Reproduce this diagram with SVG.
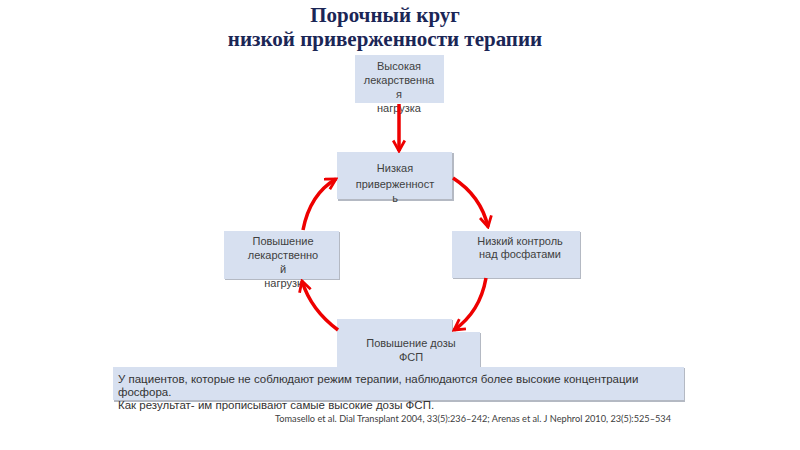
<svg xmlns="http://www.w3.org/2000/svg" width="800" height="450" viewBox="0 0 800 450">
<defs>
<style>
.box{fill:#d7e0f0}
.shadow{fill:#b4b9c3}
.bt{font-family:"Liberation Sans",Arial,sans-serif;font-size:11px;fill:#404040;text-anchor:middle}
.nt{font-family:"Liberation Sans",Arial,sans-serif;font-size:11.5px;fill:#333}
.title{font-family:"Liberation Serif","Times New Roman",serif;font-size:21px;font-weight:bold;fill:#1b2656;text-anchor:middle}
.arr{fill:none;stroke:#ee0000;stroke-width:3.5;marker-end:url(#ah)}
</style>
<marker id="ah" viewBox="0 0 12 12" refX="10" refY="6" markerWidth="14" markerHeight="14" markerUnits="userSpaceOnUse" orient="auto">
<path d="M1,1 L10,6 L1,11" fill="none" stroke="#ee0000" stroke-width="2.4"/>
</marker>
</defs>
<rect width="800" height="450" fill="#ffffff"/>
<g id="title">
<text class="title" x="385" y="22">Порочный круг</text>
<text class="title" x="385" y="46">низкой приверженности терапии</text>
</g>
<g id="node-high-load">
<rect class="box" x="355" y="55" width="89" height="48"/>
<text class="bt" x="399" y="70">Высокая</text>
<text class="bt" x="399" y="84">лекарственна</text>
<text class="bt" x="399" y="98">я</text>
<text class="bt" x="399" y="112">нагрузка</text>
</g>
<g id="node-low-adherence">
<rect class="shadow" x="338" y="153" width="116" height="48"/>
<rect class="box" x="337" y="152" width="115" height="47"/>
<text class="bt" x="395" y="172">Низкая</text>
<text class="bt" x="395" y="188">приверженност</text>
<text class="bt" x="395" y="202">ь</text>
</g>
<g id="node-low-control">
<rect class="shadow" x="453" y="232" width="128" height="47"/>
<rect class="box" x="452" y="231" width="128" height="47"/>
<text class="bt" x="520" y="245">Низкий контроль</text>
<text class="bt" x="520" y="258">над фосфатами</text>
</g>
<g id="node-dose-up">
<path class="shadow" d="M338,320 H453 V333 H481 V368 H338 Z"/>
<path class="box" d="M337,319 H452 V332 H480 V367 H337 Z"/>
<text class="bt" x="411" y="347">Повышение дозы</text>
<text class="bt" x="411" y="361">ФСП</text>
</g>
<g id="node-load-up">
<rect class="shadow" x="225" y="232" width="115" height="48"/>
<rect class="box" x="224" y="231" width="115" height="48"/>
<text class="bt" x="283" y="245">Повышение</text>
<text class="bt" x="283" y="259">лекарственно</text>
<text class="bt" x="283" y="273">й</text>
<text class="bt" x="283" y="287">нагрузк</text>
</g>
<g id="connectors">
<path class="arr" d="M399,104 L399,151"/>
<path class="arr" d="M453,178 Q481,196 488,227"/>
<path class="arr" d="M486,278 Q480,312 454,330"/>
<path class="arr" d="M338,330 Q311,310 302,281"/>
<path class="arr" d="M303,230 Q310,194 336,179"/>
</g>
<g id="note">
<rect class="shadow" x="114" y="368" width="571" height="34"/>
<rect class="box" x="113" y="367" width="571" height="33"/>
<text class="nt" x="118" y="383">У пациентов, которые не соблюдают режим терапии, наблюдаются более высокие концентрации</text>
<text class="nt" x="118" y="396">фосфора.</text>
<text class="nt" x="118" y="409">Как результат- им прописывают самые высокие дозы ФСП.</text>
<text x="275" y="422" font-family="Lato,'Liberation Sans',sans-serif" font-size="8.5" fill="#404040" textLength="396" lengthAdjust="spacingAndGlyphs">Tomasello et al. Dial Transplant 2004, 33(5):236–242; Arenas et al. J Nephrol 2010, 23(5):525–534</text>
</g>
</svg>
